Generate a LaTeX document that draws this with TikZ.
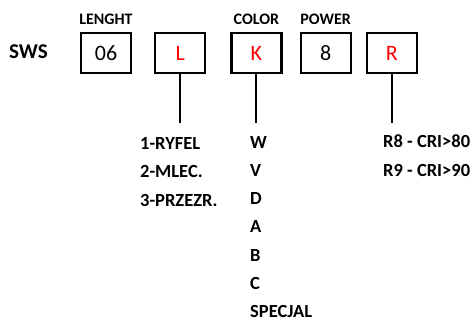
\documentclass[tikz,border=0pt]{standalone}
\usepackage{fontspec}
\setmainfont{Carlito}
\usetikzlibrary{positioning}

\begin{document}
\begin{tikzpicture}[auto, x=1pt, y=-1pt]
  \tikzset{codebox/.style={draw, rectangle, line width=2.2pt, align=center, minimum width=50pt, minimum height=39.5pt, inner sep=0pt, font=\fontsize{22}{26}\selectfont},
    head/.style={font=\bfseries\fontsize{16}{18}\selectfont, inner sep=0pt},
    item/.style={font=\bfseries\fontsize{18.5}{22}\selectfont, anchor=base west, inner sep=0pt},
    stem/.style={draw, line width=2pt}
  }
  \useasboundingbox (0,0) rectangle (472,321);

  \node [font=\bfseries\fontsize{21}{25}\selectfont, anchor=west, inner sep=0pt] (prefix) at (9,52) {SWS};

  \node [codebox] (length) at (106,53) {06};
  \node [codebox, text=red, right=22pt of length] (lamp) {L};
  \node [codebox, text=red, right=24pt of lamp] (color) {K};
  \node [codebox, right=17pt of color] (power) {8};
  \node [codebox, text=red, right=14pt of power] (cri) {R};

  \node [head, above=7pt of length] {LENGHT};
  \node [head, above=7pt of color] {COLOR};
  \node [head, above=7pt of power] {POWER};

  % options under each box
  \coordinate (lampend) at (181,123);
  \coordinate (colorend) at (257,123);
  \coordinate (criend) at (390,123);
  \path[stem] (lamp.south) -- (lamp.south |- lampend);
  \path[stem] (color.south) -- (color.south |- colorend);
  \path[stem] (cri.south) -- (cri.south |- criend);

  \foreach \t [count=\i] in {1-RYFEL,2-MLEC.,3-PRZEZR.}
    \node [item] (lamp\i) at (140,120.5+28.7*\i) {\t};
  \foreach \t [count=\i] in {W,V,D,A,B,C,SPECJAL}
    \node [item] (color\i) at (250,120.5+28.1*\i) {\t};
  \node [item] (cri1) at (383,148) {R8 - CRI>80};
  \node [item] (cri2) at (383,176.5) {R9 - CRI>90};

\end{tikzpicture}
\end{document}
